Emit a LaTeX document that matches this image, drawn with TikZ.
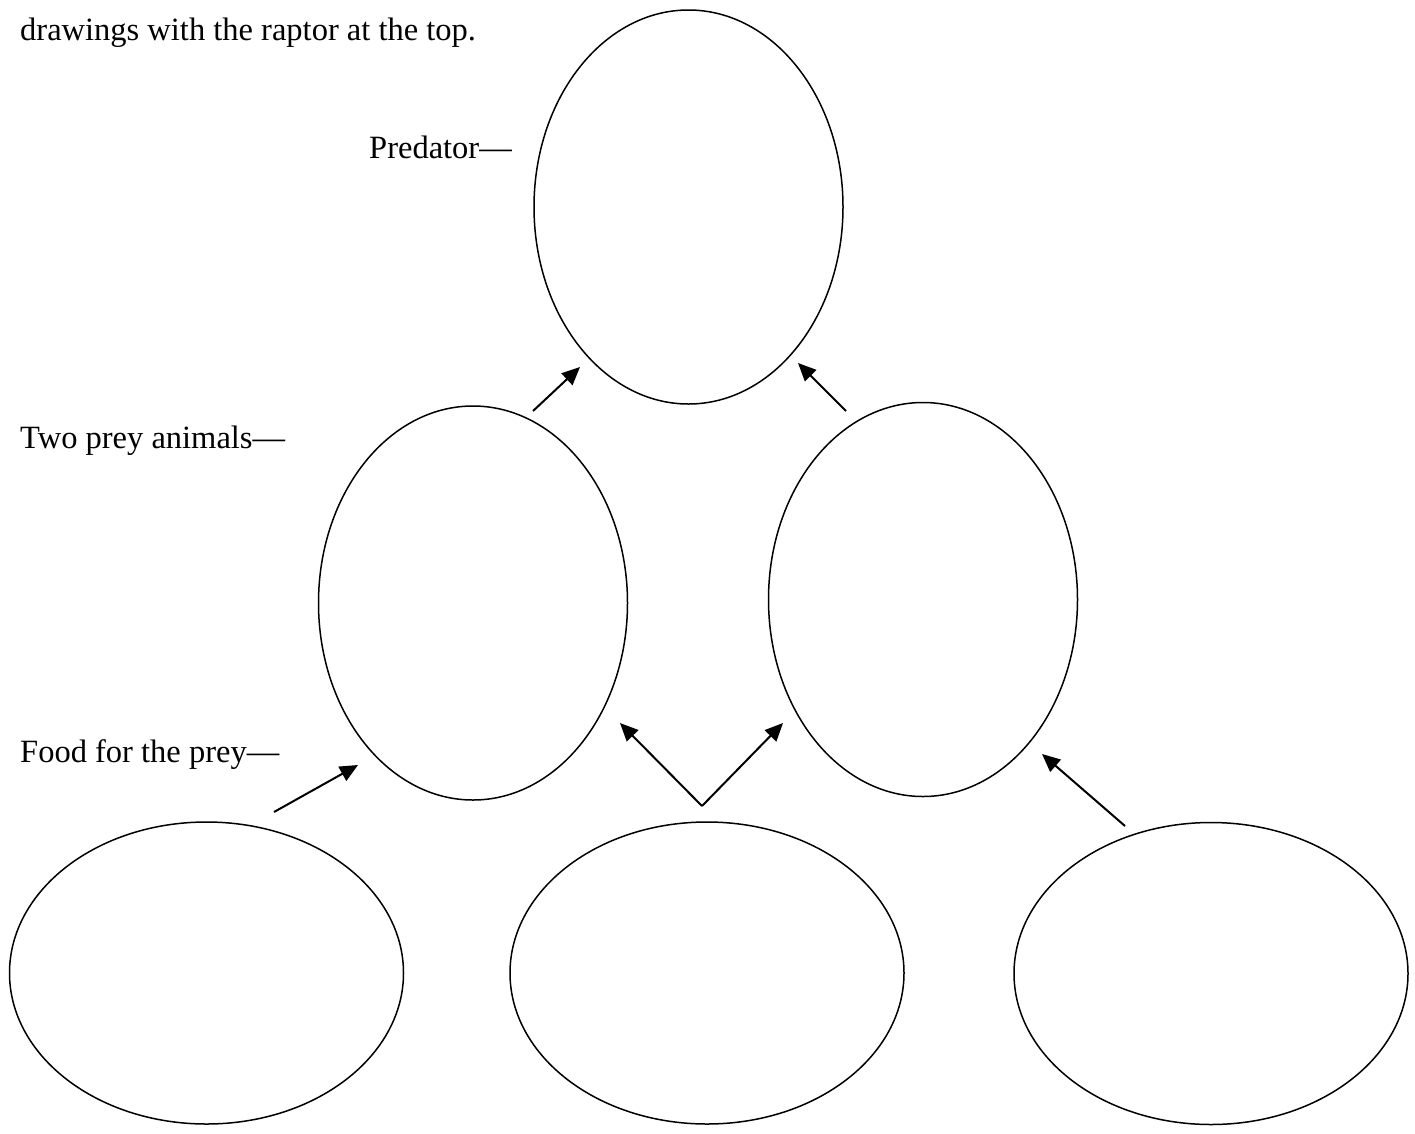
\documentclass[tikz,border=0pt]{standalone}
\usepackage{fontspec}
\setmainfont{Liberation Serif}
\usetikzlibrary{shapes.geometric,arrows.meta}
\begin{document}
\begin{tikzpicture}[x=1pt,y=-1pt,
  oval/.style={draw,ellipse,line width=1.5pt,inner sep=0pt},
  tall/.style={oval,minimum width=309pt,minimum height=394pt},
  wide/.style={oval,minimum width=394pt,minimum height=302pt},
  arr/.style={line width=2pt,-{Triangle[length=18pt,width=16pt]}},
  lbl/.style={font=\fontsize{32.5}{38}\selectfont,inner sep=0pt}]
\useasboundingbox (0,0) rectangle (1415,1133);
\fill[white] (0,0) rectangle (1415,1133);
\node[tall] (top) at (688.5,207) {};
\node[tall] (ml) at (473,603) {};
\node[tall] (mr) at (923,599.5) {};
\node[wide] (bl) at (206.5,973) {};
\node[wide] (bm) at (707,973) {};
\node[wide] (br) at (1211,973.5) {};
\node[lbl,anchor=base west] (title) at (20,40) {drawings with the raptor at the top.};
\node[lbl,anchor=base east] (lp) at (512,158) {Predator—};
\node[lbl,anchor=base west] (lt) at (20,448) {Two prey animals—};
\node[lbl,anchor=base west] (lf) at (20,762) {Food for the prey—};
\coordinate (a1s) at (533,411); \coordinate (a1e) at (580,367);
\coordinate (a2s) at (846,411); \coordinate (a2e) at (798,363);
\coordinate (a3s) at (274,812); \coordinate (a3e) at (358,765);
\coordinate (vtx) at (702,806);
\coordinate (a4e) at (620,723); \coordinate (a5e) at (783,723);
\coordinate (a6s) at (1125,826); \coordinate (a6e) at (1042,754);
\draw[arr] (a1s) -- (a1e);
\draw[arr] (a2s) -- (a2e);
\draw[arr] (a3s) -- (a3e);
\draw[arr] (vtx) -- (a4e);
\draw[arr] (vtx) -- (a5e);
\draw[arr] (a6s) -- (a6e);
\end{tikzpicture}
\end{document}
